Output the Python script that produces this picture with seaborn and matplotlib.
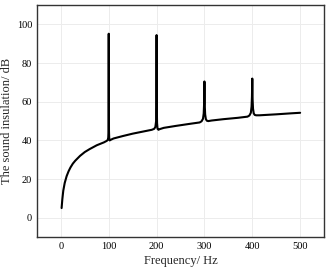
import matplotlib
matplotlib.use("Agg")
import matplotlib.pyplot as plt
from matplotlib.ticker import MultipleLocator
import seaborn as sns
import pandas as pd

freq = [1.5, 3, 5, 8, 12, 16, 20, 25, 30, 40, 50, 60, 75, 90, 96, 98, 99, 99.5, 100, 100.5, 101, 102, 104, 110,
        130, 150, 170, 190, 195, 197.5, 199, 199.5, 200, 200.5, 201, 202, 204, 206, 215,
        240, 270, 290, 294, 297, 298.5, 299.3, 300, 300.7, 301.5, 303, 305, 308, 315,
        340, 370, 390, 394, 397, 398.5, 399.3, 400, 400.7, 401.5, 403, 405, 408, 415, 450, 480, 500]
sound_db = [5.0, 9.5, 14.0, 18.0, 21.5, 24.0, 26.0, 28.0, 29.5, 32.0, 34.0, 35.5, 37.5, 39.0, 39.8, 40.3, 41.5, 45.0, 95.2, 45.0, 41.0, 40.0, 40.3, 41.0,
            42.3, 43.5, 44.5, 45.5, 46.0, 47.0, 50.0, 57.0, 94.5, 56.0, 49.0, 46.0, 45.5, 45.8, 46.5,
            47.5, 48.6, 49.3, 49.9, 51.2, 54.0, 59.0, 70.5, 58.0, 53.5, 51.0, 50.2, 50.0, 50.3,
            51.0, 51.7, 52.3, 52.9, 54.3, 57.5, 62.5, 72.0, 61.0, 56.5, 54.0, 53.2, 53.0, 53.0, 53.5, 54.0, 54.3]

x_ticks = [0, 100, 200, 300, 400, 500]
y_ticks = [0, 20, 40, 60, 80, 100]

df = pd.DataFrame({"freq": freq, "db": sound_db})

sns.set_style("white")
plt.rcParams['font.family'] = ['Liberation Serif', 'DejaVu Serif']
plt.rcParams['mathtext.fontset'] = 'stix'

fig = plt.figure(figsize=(3.3, 2.7), dpi=100)
ax = fig.add_axes([0.112, 0.122, 0.870, 0.859])
sns.lineplot(data=df, x="freq", y="db", ax=ax, color="black", linewidth=1.5, estimator=None, sort=False)

ax.set_xlim(-50, 550)
ax.set_ylim(-10, 110)
ax.set_xticks(x_ticks)
ax.set_yticks(y_ticks)
ax.xaxis.set_minor_locator(MultipleLocator(50))
ax.yaxis.set_minor_locator(MultipleLocator(10))
ax.grid(True, which="major", color="#ececec", linewidth=0.7)
ax.tick_params(which="major", direction="in", length=3, width=0.8, labelsize=7.5, colors="#333333", labelcolor="black")
ax.tick_params(which="minor", direction="in", length=1.8, width=0.6, colors="#333333")
for s in ax.spines.values():
    s.set_color("#333333")
    s.set_linewidth(1.0)
ax.set_xlabel("Frequency/ Hz", fontsize=9, labelpad=3)
ax.set_ylabel("The sound insulation/ dB", fontsize=9, labelpad=3)

fig.savefig("out.png", dpi=100)
